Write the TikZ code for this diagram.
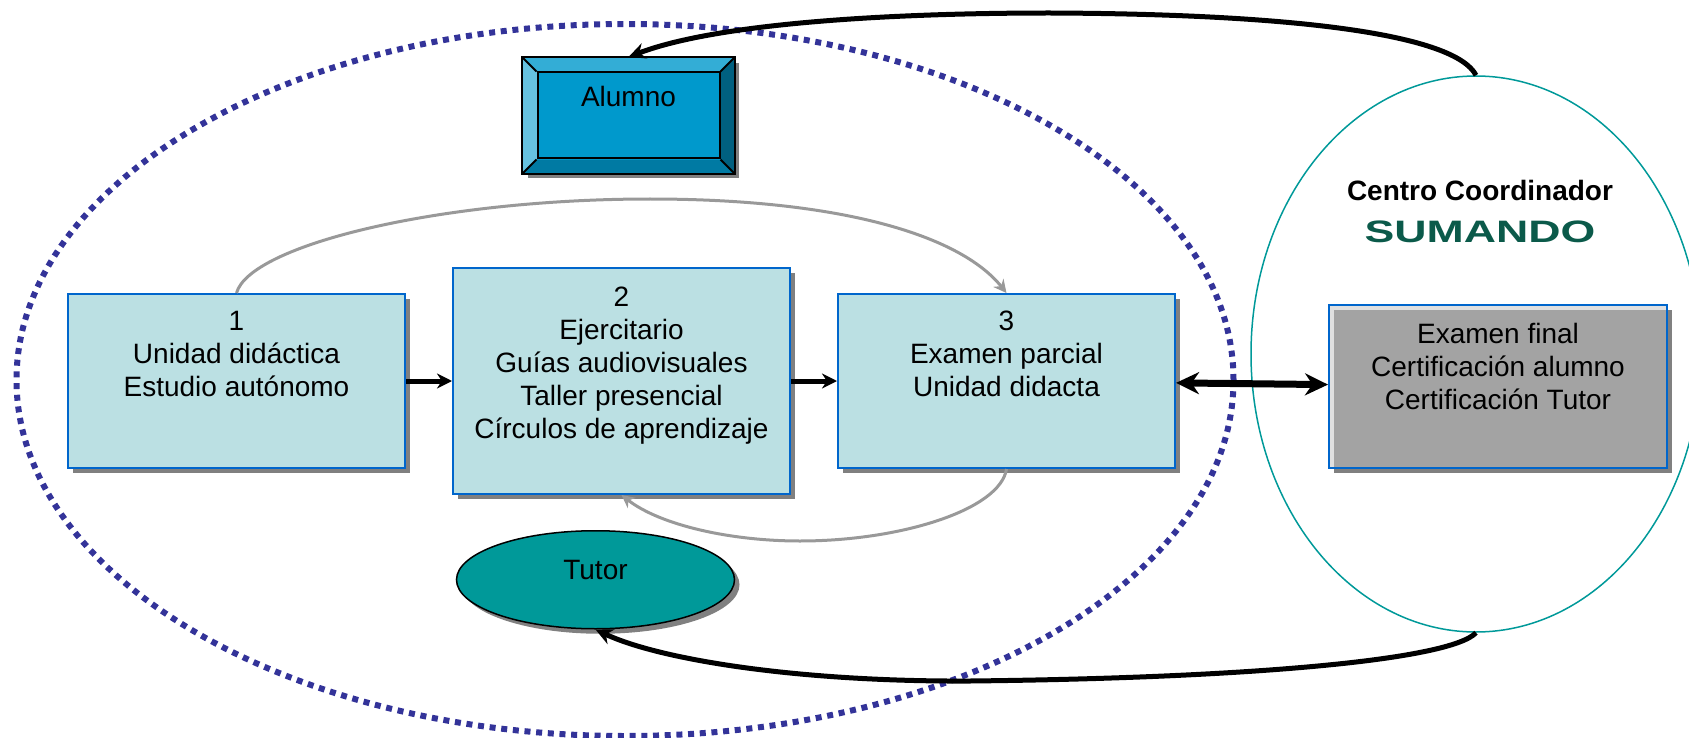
\documentclass[tikz,border=0pt]{standalone}
\usepackage{fontspec}
\setmainfont{Liberation Sans}
\usetikzlibrary{positioning,shapes.geometric,shadows,calc,arrows.meta}

\definecolor{boxfill}{HTML}{BBE0E3}
\definecolor{boxline}{HTML}{0066CC}
\definecolor{dotline}{HTML}{333399}
\definecolor{tealc}{HTML}{009999}
\definecolor{logoc}{HTML}{0B5A4A}
\definecolor{bevface}{HTML}{0099CC}
\definecolor{bevtop}{HTML}{33ADD6}
\definecolor{bevleft}{HTML}{66C2E0}
\definecolor{bevright}{HTML}{006080}
\definecolor{bevbottom}{HTML}{007AA3}

\tikzset{
  txt/.style={font=\fontsize{28}{33}\selectfont},
  shade5/.style={drop shadow={shadow xshift=5pt,shadow yshift=-5pt,fill=black!50,opacity=1}},
  stage/.style={txt,draw=boxline,line width=2pt,fill=boxfill,shade5,align=center,inner sep=0pt,minimum width=337pt},
  flow/.style={line width=5pt,-{Stealth[length=15pt,width=15pt]}},
  back/.style={line width=3pt,draw=black!40,-{Stealth[length=13pt,width=13pt]}},
  link/.style={line width=5pt,-{Stealth[length=17pt,width=16pt]}},
}

\begin{document}
\begin{tikzpicture}[x=1pt,y=-1pt]

  \path[use as bounding box,clip] (0,0) rectangle (1689,738);

  % Ellipses

  \node[ellipse,draw=dotline,line width=6pt,dash pattern=on 6pt off 5.7pt,minimum width=1217pt,minimum height=712pt] (aula) at (625,380) {};
  \node[ellipse,draw=tealc,line width=1.5pt,minimum width=450pt,minimum height=556pt] (centro) at (1476,354) {};

  % Nodes

  \node[stage,minimum height=174pt,text depth=54pt] (uno) at (236.5,381) {1\\Unidad didáctica\\Estudio autónomo};
  \node[stage,minimum height=226pt,text depth=36pt,right=46pt of uno] (dos) {2\\Ejercitario\\Guías audiovisuales\\Taller presencial\\Círculos de aprendizaje};
  \node[stage,minimum height=174pt,text depth=54pt,right=46pt of dos] (tres) {3\\Examen parcial\\Unidad didacta};

  \node[stage,minimum width=338pt,minimum height=163pt,text depth=41pt,right=152pt of tres,yshift=-5.5pt,fill=black!12,
    path picture={\fill[black!36] ($(path picture bounding box.north west)+(5,5)$) rectangle (path picture bounding box.south east);}] (final) {Examen final\\Certificación alumno\\Certificación Tutor};

  \node[txt,font=\fontsize{28}{33}\selectfont\bfseries] (coord) at (1480,190) {Centro Coordinador};
  \node[font=\fontsize{31}{33}\selectfont\bfseries,text=logoc,xscale=1.44,below=14pt of coord] (logo) {SUMANDO};

  \node[draw=black,line width=2pt,fill=bevface,shade5,minimum width=211pt,minimum height=115pt,inner sep=0pt,above=93pt of dos,xshift=7pt] (marco) {};
  \fill[bevtop] (marco.north west) -- (marco.north east) -- ($(marco.north east)+(-14,15)$) -- ($(marco.north west)+(15,15)$) -- cycle;
  \fill[bevleft] (marco.north west) -- (marco.south west) -- ($(marco.south west)+(15,-14)$) -- ($(marco.north west)+(15,15)$) -- cycle;
  \fill[bevright] (marco.north east) -- (marco.south east) -- ($(marco.south east)+(-14,-14)$) -- ($(marco.north east)+(-14,15)$) -- cycle;
  \fill[bevbottom] (marco.south west) -- (marco.south east) -- ($(marco.south east)+(-14,-14)$) -- ($(marco.south west)+(15,-14)$) -- cycle;
  \node[txt,draw=black,line width=2pt,fill=bevface,minimum width=182pt,minimum height=86pt,inner sep=0pt,text depth=38pt] (alumno) at (marco.center) {Alumno};
  \draw[line width=2pt] (marco.north west) -- (alumno.north west) (marco.north east) -- (alumno.north east) (marco.south west) -- (alumno.south west) (marco.south east) -- (alumno.south east);
  \draw[line width=2pt] (marco.north west) rectangle (marco.south east);

  \node[txt,ellipse,draw=black,line width=1.5pt,fill=tealc,shade5,minimum width=278pt,minimum height=98pt,inner sep=0pt,text depth=20pt,below=35pt of dos,xshift=-26pt] (tutor) {Tutor};

  % Edges

  \draw[flow] (uno) -- (dos);
  \draw[flow] (dos) -- (tres);
  \draw[line width=7pt,{Stealth[length=23pt,width=22pt]}-{Stealth[length=23pt,width=22pt]}] (tres) -- (final);

  \draw[back] (uno.north) .. controls (250,245) and (440,199) .. (650,199) .. controls (840,199) and (960,235) .. (tres.north);
  \draw[back] (tres.south) .. controls (1000,510) and (900,541) .. (800,541) .. controls (730,541) and (660,525) .. (dos.south);

  \draw[link] (centro.north) .. controls (1455,35) and (1300,14) .. (1050,13) .. controls (900,13) and (720,22) .. (marco.north);
  \draw[link] (centro.south) .. controls (1450,660) and (1250,678) .. (970,681) .. controls (800,682) and (660,660) .. (tutor.south);

\end{tikzpicture}
\end{document}
